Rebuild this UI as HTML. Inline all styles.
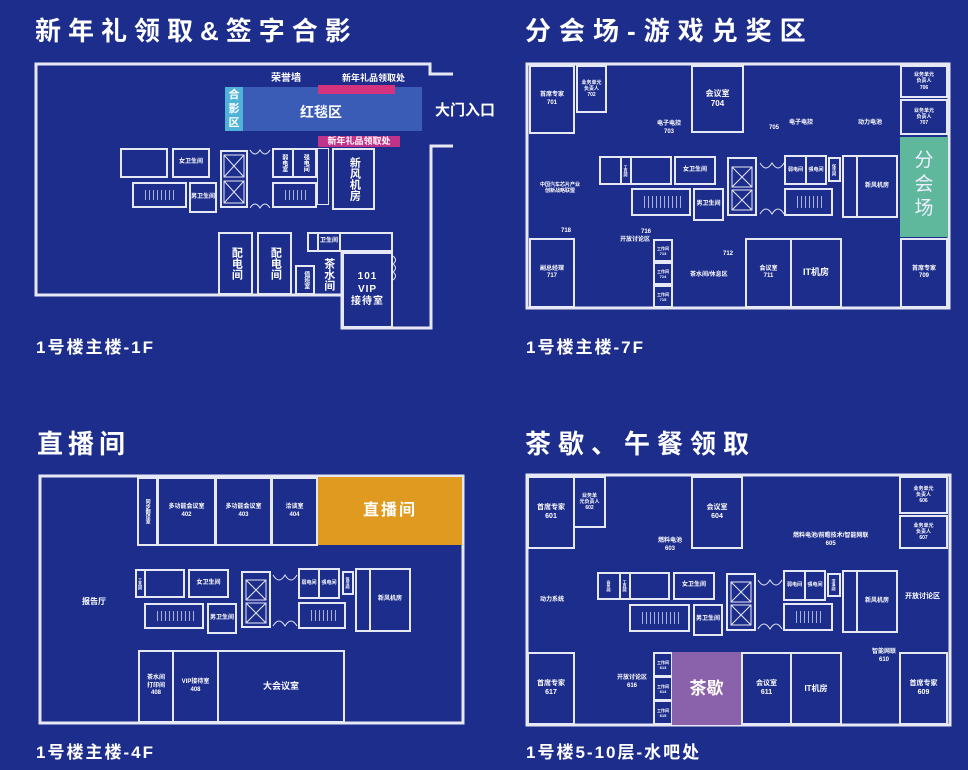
<!DOCTYPE html>
<html><head><meta charset="utf-8">
<style>
*{margin:0;padding:0;box-sizing:border-box}
body{width:968px;height:770px;background:#1d2d8c;position:relative;overflow:hidden;font-family:"Liberation Sans","Noto Sans CJK SC",sans-serif;color:#fff}
.b{position:absolute;border:2px solid #e6e8f5;display:flex;align-items:center;justify-content:center;text-align:center;font-size:6px;line-height:1.25;font-weight:bold;color:#fff}
.t{position:absolute;font-size:6px;font-weight:bold;color:#fff;text-align:center;line-height:1.25;white-space:nowrap}
.h{position:absolute;font-size:26px;font-weight:bold;letter-spacing:7px;white-space:nowrap;line-height:1}
.f{position:absolute;font-size:17px;font-weight:bold;letter-spacing:2px;white-space:nowrap;line-height:1}
.st{background:repeating-linear-gradient(90deg,transparent 0 3px,rgba(230,232,245,.7) 3px 4px);background-clip:content-box;padding:6px 8px}
.v{writing-mode:vertical-rl;text-orientation:upright;letter-spacing:0}
svg{position:absolute;left:0;top:0}
</style></head><body>

<div class="h" style="left:35px;top:18px">新年礼领取&amp;签字合影</div>
<div class="h" style="left:525px;top:18px;letter-spacing:8px">分会场-游戏兑奖区</div>
<div class="h" style="left:37px;top:431px;letter-spacing:5px">直播间</div>
<div class="h" style="left:525px;top:431px">茶歇、午餐领取</div>
<div class="f" style="left:36px;top:339px">1号楼主楼-1F</div>
<div class="f" style="left:526px;top:339px">1号楼主楼-7F</div>
<div class="f" style="left:36px;top:744px">1号楼主楼-4F</div>
<div class="f" style="left:526px;top:744px">1号楼5-10层-水吧处</div>

<svg width="968" height="770" viewBox="0 0 968 770" fill="none" stroke="#e6e8f5">
<polyline points="453,74 430,74 430,64 36,64 36,295 342,295" stroke-width="3"/>
<polyline points="453,146 431,146 431,328 342,328 342,252" stroke-width="3"/>
<rect x="527" y="64" width="422" height="244" stroke-width="3"/>
<rect x="40" y="476" width="423" height="247" stroke-width="3"/>
<rect x="527" y="475" width="423" height="250" stroke-width="3"/>
<g stroke-width="1">
<path d="M250,150 q5,8 10,0 q5,8 10,0 M250,208 q5,-8 10,0 q5,-8 10,0"/>
<path d="M760,163 q6,10 12,0 q6,10 12,0 M760,214 q6,-10 12,0 q6,-10 12,0"/>
<path d="M273,575 q6,10 12,0 q6,10 12,0 M273,626 q6,-10 12,0 q6,-10 12,0"/>
<path d="M758,580 q6,10 12,0 q6,10 12,0 M758,629 q6,-10 12,0 q6,-10 12,0"/>
<path d="M393,256 q5,4 0,8 q5,4 0,8 q5,4 0,8"/>
</g>
<g stroke-width="1">
<rect x="224" y="155" width="20" height="22"/><path d="M224,155 l20,22 M244,155 l-20,22"/>
<rect x="224" y="181" width="20" height="22"/><path d="M224,181 l20,22 M244,181 l-20,22"/>
<rect x="732" y="167" width="20" height="20"/><path d="M732,167 l20,20 M752,167 l-20,20"/>
<rect x="732" y="190" width="20" height="20"/><path d="M732,190 l20,20 M752,190 l-20,20"/>
<rect x="246" y="580" width="20" height="20"/><path d="M246,580 l20,20 M266,580 l-20,20"/>
<rect x="246" y="603" width="20" height="20"/><path d="M246,603 l20,20 M266,603 l-20,20"/>
<rect x="731" y="582" width="20" height="20"/><path d="M731,582 l20,20 M751,582 l-20,20"/>
<rect x="731" y="605" width="20" height="20"/><path d="M731,605 l20,20 M751,605 l-20,20"/>
</g>
</svg>

<!-- Panel 1 -->
<div style="position:absolute;left:225px;top:87px;width:197px;height:44px;background:#3a5cb6"></div>
<div style="position:absolute;left:225px;top:87px;width:18px;height:44px;background:#4fb3d9;font-size:11px;font-weight:bold;line-height:14px;text-align:center;padding-top:1px">合<br>影<br>区</div>
<div style="position:absolute;left:318px;top:85px;width:77px;height:9px;background:#d4337e"></div>
<div class="t" style="left:300px;top:104px;font-size:14px">红毯区</div>
<div class="t" style="left:271px;top:73px;font-size:10px">荣誉墙</div>
<div class="t" style="left:342px;top:73px;font-size:9px">新年礼品领取处</div>
<div style="position:absolute;left:318px;top:136px;width:82px;height:11px;background:#c0338a;font-size:9px;font-weight:bold;line-height:11px;text-align:center">新年礼品领取处</div>
<div class="t" style="left:435px;top:102px;font-size:15px">大门入口</div>
<div class="b" style="left:120px;top:148px;width:48px;height:30px"></div>
<div class="b" style="left:172px;top:148px;width:38px;height:30px">女卫生间</div>
<div class="b st" style="left:132px;top:182px;width:55px;height:26px"></div>
<div class="b" style="left:189px;top:182px;width:28px;height:31px">男卫生间</div>
<div class="b" style="left:220px;top:150px;width:28px;height:58px"></div>
<div class="b v" style="left:272px;top:148px;width:22px;height:30px">弱电室</div>
<div class="b v" style="left:292px;top:148px;width:25px;height:30px">强电间</div>
<div class="b st" style="left:272px;top:182px;width:45px;height:26px"></div>
<div class="b" style="left:317px;top:148px;width:12px;height:57px;border-width:1px"></div>
<div class="b v" style="left:332px;top:148px;width:43px;height:62px;font-size:11px">新风机房</div>
<div class="b v" style="left:218px;top:232px;width:35px;height:63px;font-size:11px">配电间</div>
<div class="b v" style="left:257px;top:232px;width:35px;height:63px;font-size:11px">配电间</div>
<div class="b v" style="left:295px;top:265px;width:20px;height:30px">值班室</div>
<div class="b" style="left:307px;top:232px;width:12px;height:20px"></div>
<div class="b" style="left:317px;top:232px;width:24px;height:20px">卫生间</div>
<div class="b" style="left:339px;top:232px;width:54px;height:20px"></div>
<div class="t v" style="left:321px;top:258px;font-size:11px">茶水间</div>
<div class="b" style="left:342px;top:252px;width:51px;height:76px;font-size:10px;letter-spacing:1px">101<br>VIP<br>接待室</div>

<!-- Panel 2 -->
<div class="b" style="left:529px;top:65px;width:46px;height:69px">首席专家<br>701</div>
<div class="b" style="left:576px;top:65px;width:31px;height:48px;font-size:5px">业务单元<br>负责人<br>702</div>
<div class="b" style="left:691px;top:65px;width:53px;height:68px;font-size:8px">会议室<br>704</div>
<div class="b" style="left:900px;top:65px;width:48px;height:33px;font-size:5px">业务单元<br>负责人<br>706</div>
<div class="b" style="left:900px;top:99px;width:48px;height:36px;font-size:5px">业务单元<br>负责人<br>707</div>
<div style="position:absolute;left:900px;top:137px;width:48px;height:100px;background:#5fb89c;font-size:19px;line-height:24px;text-align:center;padding-top:12px;color:#eef">分<br>会<br>场</div>
<div class="b" style="left:900px;top:238px;width:48px;height:70px">首席专家<br>709</div>
<div class="b" style="left:529px;top:238px;width:46px;height:70px">副总经理<br>717</div>
<div class="b" style="left:653px;top:239px;width:20px;height:23px;font-size:4px">工作间<br>713</div>
<div class="b" style="left:653px;top:262px;width:20px;height:23px;font-size:4px">工作间<br>714</div>
<div class="b" style="left:653px;top:285px;width:20px;height:23px;font-size:4px">工作间<br>715</div>
<div class="b" style="left:745px;top:238px;width:47px;height:70px">会议室<br>711</div>
<div class="b" style="left:790px;top:238px;width:52px;height:70px;font-size:9px">IT机房</div>
<div class="b" style="left:599px;top:156px;width:23px;height:29px"></div>
<div class="b v" style="left:620px;top:156px;width:12px;height:29px;font-size:4px">工具间</div>
<div class="b" style="left:630px;top:156px;width:42px;height:29px"></div>
<div class="b" style="left:674px;top:156px;width:42px;height:29px">女卫生间</div>
<div class="b st" style="left:631px;top:188px;width:60px;height:28px"></div>
<div class="b" style="left:693px;top:188px;width:31px;height:33px">男卫生间</div>
<div class="b" style="left:727px;top:157px;width:30px;height:59px"></div>
<div class="b" style="left:784px;top:155px;width:23px;height:30px;font-size:5px">弱电间</div>
<div class="b" style="left:805px;top:155px;width:22px;height:30px;font-size:5px">强电间</div>
<div class="b v" style="left:828px;top:157px;width:13px;height:25px;font-size:4px">保洁间</div>
<div class="b st" style="left:784px;top:188px;width:49px;height:28px"></div>
<div class="b" style="left:842px;top:155px;width:16px;height:63px"></div>
<div class="b" style="left:856px;top:155px;width:42px;height:63px">新风机房</div>
<div class="t" style="left:657px;top:121px">电子电控<br>703</div>
<div class="t" style="left:769px;top:125px">705</div>
<div class="t" style="left:789px;top:120px">电子电控</div>
<div class="t" style="left:858px;top:120px">动力电池</div>
<div class="t" style="left:540px;top:182px;font-size:5px">中国汽车芯片产业<br>创新战略联盟</div>
<div class="t" style="left:561px;top:228px">718</div>
<div class="t" style="left:641px;top:229px">716</div>
<div class="t" style="left:620px;top:237px">开放讨论区</div>
<div class="t" style="left:723px;top:251px">712</div>
<div class="t" style="left:690px;top:272px">茶水间/休息区</div>

<!-- Panel 3 -->
<div class="b" style="left:137px;top:477px;width:21px;height:69px;font-size:5px"><span class="v">同步翻译室</span></div>
<div class="b" style="left:157px;top:477px;width:59px;height:69px">多功能会议室<br>402</div>
<div class="b" style="left:215px;top:477px;width:57px;height:69px">多功能会议室<br>403</div>
<div class="b" style="left:271px;top:477px;width:47px;height:69px">洽谈室<br>404</div>
<div style="position:absolute;left:318px;top:477px;width:144px;height:68px;background:#e09a1f;font-size:16px;font-weight:bold;line-height:68px;text-align:center;letter-spacing:2px">直播间</div>
<div class="b v" style="left:135px;top:569px;width:11px;height:29px;font-size:4px">工具间</div>
<div class="b" style="left:144px;top:569px;width:41px;height:29px"></div>
<div class="b" style="left:188px;top:569px;width:41px;height:29px">女卫生间</div>
<div class="b st" style="left:144px;top:603px;width:60px;height:26px"></div>
<div class="b" style="left:207px;top:603px;width:30px;height:31px">男卫生间</div>
<div class="b" style="left:241px;top:571px;width:30px;height:57px"></div>
<div class="b" style="left:298px;top:568px;width:22px;height:31px;font-size:5px">弱电间</div>
<div class="b" style="left:318px;top:568px;width:22px;height:31px;font-size:5px">强电间</div>
<div class="b v" style="left:342px;top:571px;width:12px;height:24px;font-size:4px">保洁间</div>
<div class="b st" style="left:298px;top:602px;width:48px;height:27px"></div>
<div class="b" style="left:355px;top:568px;width:16px;height:64px"></div>
<div class="b" style="left:369px;top:568px;width:42px;height:64px">新风机房</div>
<div class="b" style="left:138px;top:650px;width:36px;height:73px">茶水间<br>打印间<br>408</div>
<div class="b" style="left:172px;top:650px;width:47px;height:73px">VIP接待室<br>408</div>
<div class="b" style="left:217px;top:650px;width:128px;height:73px;font-size:9px">大会议室</div>
<div class="t" style="left:82px;top:597px;font-size:8px">报告厅</div>

<!-- Panel 4 -->
<div class="b" style="left:527px;top:476px;width:48px;height:73px;font-size:7px">首席专家<br>601</div>
<div class="b" style="left:573px;top:476px;width:33px;height:52px;font-size:5px">业务单<br>元负责人<br>602</div>
<div class="b" style="left:691px;top:476px;width:52px;height:73px;font-size:7px">会议室<br>604</div>
<div class="b" style="left:899px;top:476px;width:49px;height:38px;font-size:5px">业务单元<br>负责人<br>606</div>
<div class="b" style="left:899px;top:515px;width:49px;height:34px;font-size:5px">业务单元<br>负责人<br>607</div>
<div class="b" style="left:527px;top:652px;width:48px;height:73px;font-size:7px">首席专家<br>617</div>
<div class="b" style="left:653px;top:652px;width:20px;height:25px;font-size:4px">工作间<br>613</div>
<div class="b" style="left:653px;top:676px;width:20px;height:25px;font-size:4px">工作间<br>614</div>
<div class="b" style="left:653px;top:700px;width:20px;height:25px;font-size:4px">工作间<br>615</div>
<div style="position:absolute;left:672px;top:652px;width:69px;height:73px;background:#8a62ab;font-size:17px;font-weight:bold;line-height:73px;text-align:center">茶歇</div>
<div class="b" style="left:741px;top:652px;width:51px;height:73px;font-size:7px">会议室<br>611</div>
<div class="b" style="left:790px;top:652px;width:52px;height:73px;font-size:8px">IT机房</div>
<div class="b" style="left:899px;top:652px;width:49px;height:73px;font-size:7px">首席专家<br>609</div>
<div class="b v" style="left:597px;top:572px;width:24px;height:28px;font-size:4px">会务间</div>
<div class="b v" style="left:619px;top:572px;width:12px;height:28px;font-size:4px">工具间</div>
<div class="b" style="left:629px;top:572px;width:41px;height:28px"></div>
<div class="b" style="left:673px;top:572px;width:42px;height:28px">女卫生间</div>
<div class="b st" style="left:629px;top:604px;width:61px;height:28px"></div>
<div class="b" style="left:693px;top:604px;width:30px;height:32px">男卫生间</div>
<div class="b" style="left:726px;top:573px;width:30px;height:58px"></div>
<div class="b" style="left:783px;top:570px;width:23px;height:31px;font-size:5px">弱电间</div>
<div class="b" style="left:804px;top:570px;width:22px;height:31px;font-size:5px">强电间</div>
<div class="b v" style="left:827px;top:573px;width:14px;height:24px;font-size:4px">洁净间</div>
<div class="b st" style="left:783px;top:603px;width:50px;height:28px"></div>
<div class="b" style="left:842px;top:570px;width:16px;height:63px"></div>
<div class="b" style="left:856px;top:570px;width:42px;height:63px">新风机房</div>
<div class="t" style="left:658px;top:538px">燃料电池<br>603</div>
<div class="t" style="left:793px;top:533px">燃料电池/前瞻技术/智能网联<br>605</div>
<div class="t" style="left:540px;top:597px">动力系统</div>
<div class="t" style="left:905px;top:593px;font-size:7px">开放讨论区</div>
<div class="t" style="left:872px;top:649px">智能网联<br>610</div>
<div class="t" style="left:617px;top:675px">开放讨论区<br>616</div>
</body></html>
